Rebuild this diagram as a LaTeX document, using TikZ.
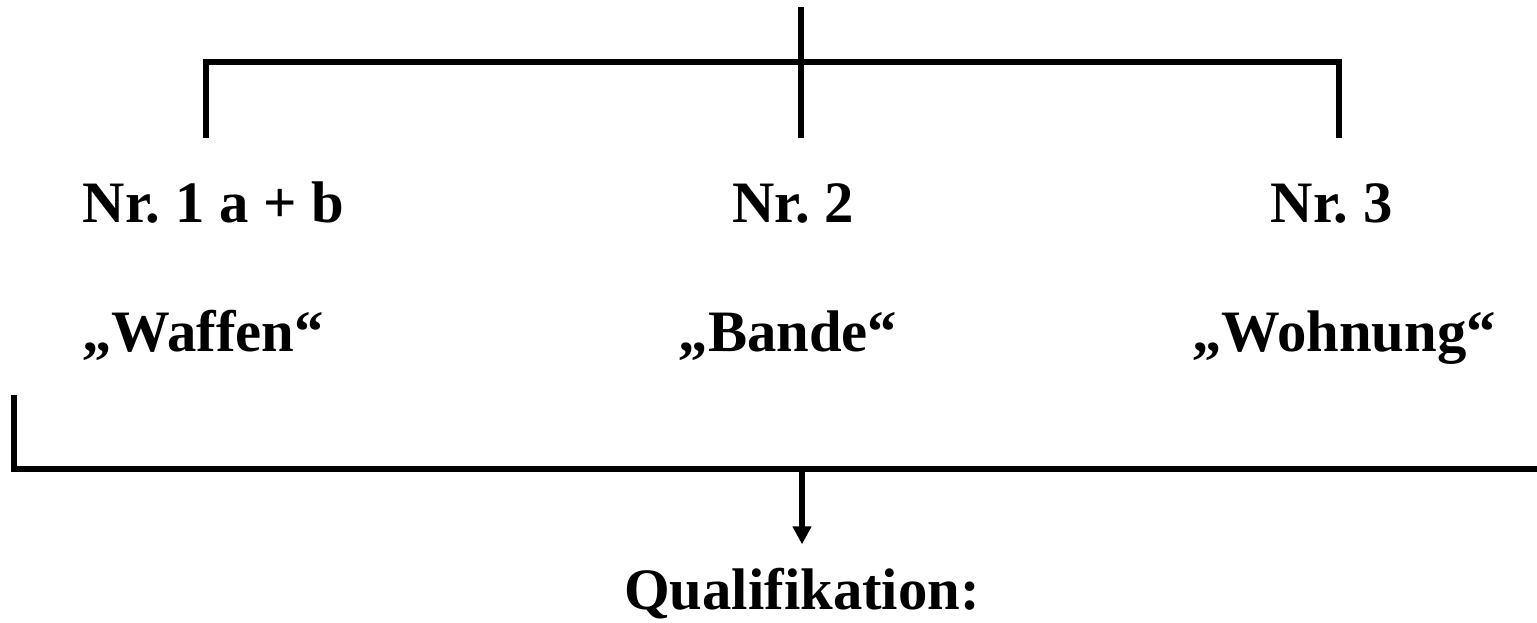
\documentclass[tikz,border=0pt]{standalone}
\usepackage{fontspec}
\setmainfont{Liberation Serif}
\usetikzlibrary{arrows.meta}
\frenchspacing
\tikzset{
  lbl/.style={font=\fontsize{33.4}{40}\selectfont\bfseries,anchor=base,inner sep=0pt},
  bar/.style={line width=0.12cm},
  down/.style={line width=0.12cm,-{Triangle[width=0.36cm,length=0.36cm]}}
}
\begin{document}
\begin{tikzpicture}
\useasboundingbox (0,0) rectangle (30.74,12.44);
\coordinate (top) at (16.02,12.3);
\coordinate (barL) at (4.12,11.2);
\coordinate (barR) at (26.78,11.2);
\coordinate (tick1) at (4.12,9.68);
\coordinate (tick2) at (16.02,9.68);
\coordinate (tick3) at (26.78,9.68);
%
\node at (4.27,7.98) [lbl] (nr1) {Nr. 1 a + b};
\node at (15.86,7.98) [lbl] (nr2) {Nr. 2};
\node at (26.63,7.98) [lbl] (nr3) {Nr. 3};
%
\node at (4.06,5.4) [lbl] (waffen) {„Waffen“};
\node at (15.76,5.4) [lbl] (bande) {„Bande“};
\node at (26.88,5.4) [lbl] (wohnung) {„Wohnung“};
%
\coordinate (baseL) at (0.28,4.54);
\coordinate (baseC) at (0.28,3.06);
\coordinate (baseR) at (30.74,3.06);
\coordinate (fork) at (16.04,3.06);
\node at (16.04,0.26) [lbl] (qual) {Qualifikation:};
%
\draw[bar] (tick1) -- (barL) -- (barR) -- (tick3);
\draw[bar] (top) -- (tick2);
\draw[bar] (baseL) -- (baseC) -- (baseR);
\draw[down,shorten >=0.46cm] (fork) -- (qual.north);
\end{tikzpicture}
\end{document}
